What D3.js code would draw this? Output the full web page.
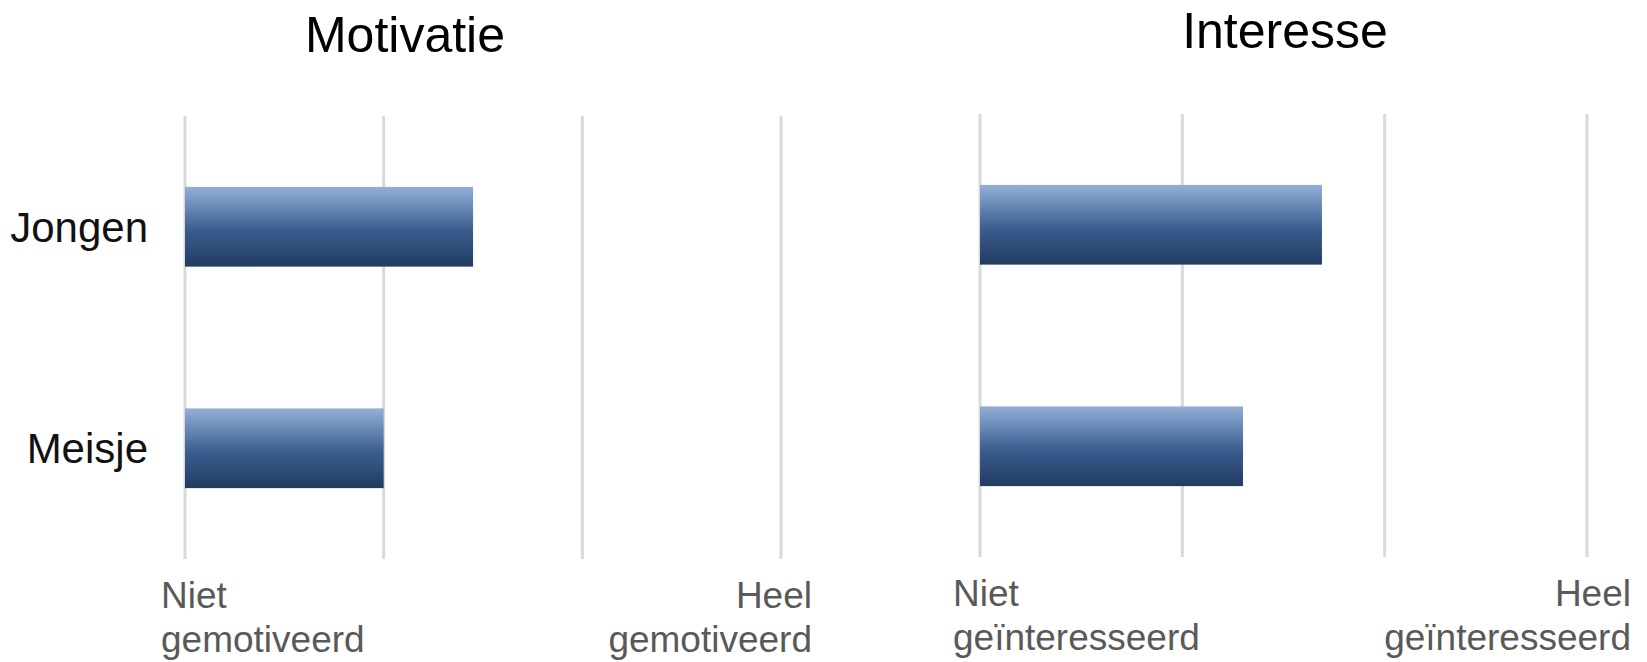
<!DOCTYPE html>
<html>
<head>
<meta charset="utf-8">
<script src="https://cdn.jsdelivr.net/npm/d3@7/dist/d3.min.js"></script>
<style>
  html, body { margin: 0; padding: 0; background: #ffffff; }
  svg { display: block; font-family: "Liberation Sans", Arial, sans-serif; }
</style>
</head>
<body>
<svg id="chart" width="1647" height="662"></svg>
<script>
// Survey means per group on a 1–4 scale
const categories = ["Jongen", "Meisje"];
const motivatieValues = [2.45, 2.0];
const interesseValues = [2.69, 2.30];
const scaleTicks = [1, 2, 3, 4];
const motivatieEnds = [["Niet", "gemotiveerd"], ["Heel", "gemotiveerd"]];
const interesseEnds = [["Niet", "geïnteresseerd"], ["Heel", "geïnteresseerd"]];

const svg = d3.select("#chart");

// Vertical blue gradient used for every bar
const grad = svg.append("defs").append("linearGradient")
  .attr("id", "barFill").attr("x1", 0).attr("y1", 0).attr("x2", 0).attr("y2", 1);
grad.append("stop").attr("offset", "0%").attr("stop-color", "#93afd7");
grad.append("stop").attr("offset", "55%").attr("stop-color", "#3a5d8f");
grad.append("stop").attr("offset", "100%").attr("stop-color", "#223b60");

function drawPanel(opt) {
  const g = svg.append("g");
  const x = d3.scaleLinear().domain([1, 4]).range([opt.x0, opt.x1]);
  const y = d3.scaleBand().domain(categories).range([opt.y0, opt.y1])
    .paddingInner(0.64).paddingOuter(0.32);

  // vertical gridlines at each scale point
  g.selectAll("line.grid").data(scaleTicks).join("line")
    .attr("class", "grid")
    .attr("x1", d => x(d)).attr("x2", d => x(d))
    .attr("y1", opt.y0).attr("y2", opt.y1)
    .attr("stroke", "#d9d9d9").attr("stroke-width", 3);

  // bars
  g.selectAll("rect.bar").data(opt.values).join("rect")
    .attr("class", "bar")
    .attr("x", x(1))
    .attr("y", (d, i) => y(categories[i]))
    .attr("width", d => x(d) - x(1))
    .attr("height", y.bandwidth())
    .attr("fill", "url(#barFill)");

  // category labels
  if (opt.showCategories) {
    g.selectAll("text.cat").data(categories).join("text")
      .attr("class", "cat")
      .attr("x", opt.x0 - 37)
      .attr("y", d => y(d) + y.bandwidth() / 2 + 15)
      .attr("text-anchor", "end")
      .attr("font-size", 42)
      .attr("fill", "#111111")
      .text(d => d);
  }

  // title
  g.append("text")
    .attr("x", opt.titleX).attr("y", opt.titleY)
    .attr("text-anchor", "middle")
    .attr("font-size", 50)
    .attr("fill", "#000000")
    .text(opt.title);

  // scale end labels
  const ends = [
    { lines: opt.ends[0], x: x(1) + opt.leftOffset, anchor: "start" },
    { lines: opt.ends[1], x: x(4) + opt.rightOffset, anchor: "end" }
  ];
  ends.forEach(e => {
    const t = g.append("text")
      .attr("text-anchor", e.anchor)
      .attr("font-size", 37)
      .attr("fill", "#595959");
    e.lines.forEach((ln, i) => {
      t.append("tspan").attr("x", e.x).attr("y", opt.y1 + 49 + i * 44).text(ln);
    });
  });
}

drawPanel({
  title: "Motivatie", titleX: 405, titleY: 52,
  values: motivatieValues, ends: motivatieEnds,
  x0: 185, x1: 781, y0: 116, y1: 559,
  leftOffset: -24, rightOffset: 31, showCategories: true
});

drawPanel({
  title: "Interesse", titleX: 1285, titleY: 48,
  values: interesseValues, ends: interesseEnds,
  x0: 980, x1: 1587, y0: 114, y1: 557,
  leftOffset: -27, rightOffset: 44, showCategories: false
});
</script>
</body>
</html>
